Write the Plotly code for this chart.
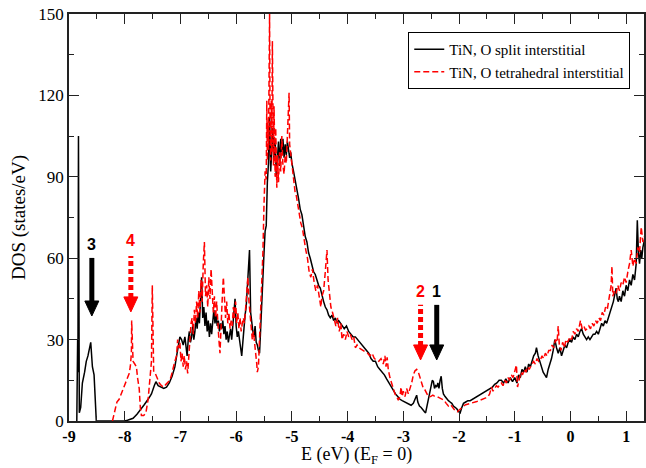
import plotly.graph_objects as go

# ---------------- data ----------------
split_energy = [
    -8.86, -8.845, -8.84, -8.83, -8.815, -8.79, -8.76, -8.72, -8.69, -8.66, -8.61, -8.58, -8.55, -8.51, -8.0,
    -7.95, -7.85, -7.78, -7.72, -7.65, -7.58, -7.52, -7.47, -7.44, -7.40, -7.35, -7.30, -7.25, -7.20, -7.15,
    -7.10, -7.06, -7.03, -7.01, -6.98, -6.95, -6.92, -6.90, -6.88, -6.86, -6.84, -6.82,
    -6.80, -6.78, -6.76, -6.74, -6.72, -6.70, -6.68, -6.66, -6.64, -6.62, -6.60, -6.58, -6.56, -6.54, -6.52,
    -6.50, -6.48, -6.46, -6.44, -6.42, -6.40, -6.38, -6.36, -6.34, -6.32, -6.30, -6.28, -6.26, -6.24, -6.22,
    -6.20, -6.18, -6.16, -6.14, -6.12, -6.10, -6.08, -6.06, -6.04, -6.02, -6.00, -5.98, -5.96, -5.94, -5.92,
    -5.90, -5.88, -5.86, -5.84, -5.82, -5.80, -5.78, -5.76, -5.74, -5.72, -5.70, -5.68, -5.66, -5.64, -5.62,
    -5.60, -5.58, -5.56, -5.54, -5.52, -5.50, -5.48, -5.46, -5.44, -5.42, -5.40, -5.38, -5.36, -5.34, -5.32,
    -5.30, -5.28, -5.26, -5.24, -5.22, -5.20, -5.18, -5.16, -5.14, -5.12, -5.10, -5.08, -5.06, -5.04, -5.02,
    -5.00, -4.97, -4.94, -4.91, -4.88, -4.85, -4.82, -4.79, -4.76, -4.73, -4.70, -4.67, -4.64, -4.61, -4.58,
    -4.55, -4.52, -4.49, -4.46, -4.43, -4.40, -4.37, -4.34, -4.31, -4.28, -4.25, -4.22, -4.19, -4.16, -4.13,
    -4.10, -4.06, -4.02, -3.98, -3.94, -3.90, -3.86, -3.82, -3.78, -3.74, -3.70, -3.66, -3.62, -3.58, -3.54,
    -3.50, -3.46, -3.42, -3.38, -3.34, -3.30, -3.26, -3.22, -3.18, -3.14, -3.10, -3.06, -3.02, -2.98, -2.94,
    -2.90, -2.86, -2.82, -2.78, -2.76, -2.74, -2.71, -2.68, -2.65, -2.62, -2.60, -2.57, -2.54, -2.51, -2.48,
    -2.46, -2.44, -2.42, -2.40, -2.38, -2.36, -2.34, -2.32, -2.30, -2.28, -2.25, -2.22, -2.19, -2.16, -2.13,
    -2.10, -2.07, -2.04, -2.01, -1.98, -1.95, -1.92, -1.88, -1.84, -1.80, -1.76, -1.72, -1.68, -1.64, -1.60,
    -1.56, -1.52, -1.48, -1.44, -1.40, -1.36, -1.32, -1.28, -1.24, -1.20, -1.16, -1.12, -1.08, -1.04, -1.00,
    -0.96, -0.93, -0.90, -0.87, -0.84, -0.81, -0.78, -0.75, -0.72, -0.69, -0.66, -0.63, -0.61, -0.58, -0.55,
    -0.52, -0.49, -0.46, -0.43, -0.40, -0.37, -0.34, -0.31, -0.28, -0.25, -0.22, -0.19, -0.16, -0.13, -0.10,
    -0.07, -0.04, -0.01, 0.02, 0.05, 0.08, 0.11, 0.14, 0.17, 0.20, 0.23, 0.26, 0.29, 0.32, 0.35,
    0.38, 0.41, 0.44, 0.47, 0.50, 0.53, 0.56, 0.59, 0.62, 0.65, 0.68, 0.71, 0.74, 0.77, 0.80,
    0.82, 0.84, 0.86, 0.88, 0.91, 0.94, 0.97, 1.00, 1.03, 1.06, 1.09, 1.12, 1.15, 1.18, 1.20,
    1.22, 1.24, 1.26, 1.28, 1.30, 1.32, 1.34,
]
split_dos = [
    0, 30, 18, 105, 3, 5, 14, 18, 22, 24, 29, 20, 17, 0, 0,
    0.3, 1, 2.5, 4, 6, 8, 10, 13, 14.5, 13, 12.5, 12, 12.5, 14, 16.5,
    20, 25, 29, 31, 30, 28, 31, 26, 24, 30, 33, 29,
    31, 35, 30, 33, 38, 34, 40, 36, 44, 53, 38, 42, 35, 40, 33,
    37, 31, 36, 32, 38, 41, 36, 39, 35, 37, 33, 36, 34, 37, 32,
    35, 30, 33, 29, 31, 34, 30, 36, 41, 45, 35, 31, 33, 29, 27,
    24, 30, 36, 39, 42, 48, 55, 63, 40, 36, 33, 31, 35, 29, 28,
    26, 25, 34, 45, 53, 62, 70, 72, 88, 95, 112, 92, 100, 108, 96,
    104, 90, 97, 103, 94, 104, 99, 104, 97, 102, 98, 103, 100, 97, 99,
    95, 92, 89, 85, 82, 78, 76, 72, 68, 66, 62, 60, 57, 55, 54,
    52, 50, 49, 46, 44, 42, 41, 39, 38, 39, 37, 38, 36, 37, 36,
    35, 34, 35, 33, 32, 31, 31, 30, 29, 28, 27, 26, 25, 23, 22,
    22, 20, 19, 18, 17, 15.5, 14, 12.5, 11, 10, 9, 8, 7.5, 7, 6.5,
    6, 5.8, 6.5, 8.5, 9.5, 7, 5.5, 5, 4, 3.4, 3, 6, 10, 12, 15,
    14.5, 12, 13, 12.5, 14, 12, 15, 16.5, 12, 10, 9, 8, 7.5, 7, 6.5,
    5.5, 5, 4.5, 3.5, 3, 5, 6.5, 7, 7.5, 7.5, 8, 8.5, 9, 9.5, 10,
    10.5, 11, 11.5, 12, 12.5, 13.5, 14, 15, 15, 14, 15.5, 14, 16, 14.5, 16,
    14, 17, 16, 19, 18, 20, 18, 21, 20, 22, 24, 25, 27, 24, 22,
    20, 18, 17, 16, 19, 21, 23, 26, 30, 27, 25, 27, 24, 26, 28,
    27, 29, 30, 29, 31, 30, 32, 31, 33, 34, 32, 31, 30, 31, 30,
    31, 32, 32, 33, 32, 34, 36, 35, 37, 36, 38, 40, 42, 44, 47,
    49, 45, 44, 46, 44, 48, 46, 50, 48, 52, 50, 54, 52, 58, 74,
    62, 58, 63, 60, 64, 66, 68,
]

tetra_energy = [
    -8.22, -8.18, -8.14, -8.10, -8.06, -8.02, -7.98, -7.95, -7.92, -7.90, -7.88, -7.875, -7.865, -7.85, -7.82,
    -7.79, -7.77, -7.74, -7.72, -7.70, -7.66, -7.62, -7.58, -7.55, -7.52, -7.505, -7.495, -7.48, -7.45, -7.42,
    -7.38, -7.34, -7.30, -7.26, -7.22, -7.19, -7.16, -7.13, -7.10, -7.07, -7.05, -7.03, -7.01, -6.99, -6.97,
    -6.95, -6.93, -6.91, -6.89, -6.87, -6.85, -6.83, -6.81, -6.79, -6.77, -6.75, -6.73, -6.71, -6.69, -6.67,
    -6.65, -6.63, -6.61, -6.59, -6.57, -6.55, -6.53, -6.51, -6.49, -6.47, -6.45, -6.43, -6.41, -6.39, -6.37,
    -6.35, -6.33, -6.31, -6.29, -6.27, -6.25, -6.23, -6.21, -6.19, -6.17, -6.15, -6.13, -6.11, -6.09, -6.07,
    -6.05, -6.03, -6.01, -5.99, -5.97, -5.95, -5.93, -5.91, -5.89, -5.87, -5.85, -5.83, -5.81, -5.79, -5.77,
    -5.75, -5.73, -5.71, -5.69, -5.67, -5.65, -5.63, -5.62, -5.60, -5.58, -5.56, -5.54, -5.52, -5.50, -5.48,
    -5.46, -5.45, -5.44, -5.43, -5.42, -5.41, -5.40, -5.39, -5.38, -5.37, -5.36, -5.35, -5.34, -5.33, -5.32,
    -5.31, -5.30, -5.29, -5.28, -5.27, -5.26, -5.24, -5.22, -5.20, -5.18, -5.16, -5.14, -5.12, -5.10, -5.08,
    -5.06, -5.05, -5.04, -5.02, -5.00, -4.98, -4.96, -4.94, -4.92, -4.90, -4.87, -4.84, -4.81, -4.78, -4.75,
    -4.72, -4.69, -4.66, -4.63, -4.60, -4.57, -4.54, -4.51, -4.48, -4.46, -4.43, -4.40, -4.37, -4.35, -4.33,
    -4.30, -4.27, -4.24, -4.21, -4.18, -4.15, -4.12, -4.10, -4.07, -4.04, -4.01, -3.98, -3.95, -3.92, -3.89,
    -3.86, -3.83, -3.80, -3.76, -3.72, -3.68, -3.64, -3.60, -3.56, -3.52, -3.48, -3.44, -3.40, -3.36, -3.33,
    -3.31, -3.29, -3.27, -3.24, -3.21, -3.18, -3.15, -3.12, -3.09, -3.06, -3.04, -3.02, -3.00, -2.97, -2.94,
    -2.91, -2.88, -2.85, -2.82, -2.79, -2.76, -2.73, -2.70, -2.67, -2.64, -2.61, -2.58, -2.55, -2.51, -2.47,
    -2.43, -2.39, -2.35, -2.31, -2.27, -2.23, -2.19, -2.15, -2.12, -2.09, -2.06, -2.03, -2.00, -1.96, -1.92,
    -1.88, -1.84, -1.80, -1.76, -1.72, -1.68, -1.64, -1.60, -1.56, -1.52, -1.48, -1.45, -1.42, -1.39, -1.36,
    -1.33, -1.30, -1.27, -1.24, -1.21, -1.18, -1.15, -1.12, -1.09, -1.06, -1.03, -1.00, -0.97, -0.95, -0.92,
    -0.89, -0.86, -0.83, -0.80, -0.77, -0.74, -0.72, -0.69, -0.66, -0.63, -0.60, -0.57, -0.54, -0.51, -0.48,
    -0.45, -0.42, -0.39, -0.36, -0.33, -0.30, -0.27, -0.24, -0.22, -0.20, -0.17, -0.14, -0.11, -0.08, -0.05,
    -0.01, 0.02, 0.05, 0.08, 0.11, 0.14, 0.18, 0.21, 0.24, 0.27, 0.30, 0.33, 0.36, 0.39, 0.42,
    0.45, 0.48, 0.51, 0.54, 0.57, 0.60, 0.63, 0.66, 0.69, 0.71, 0.73, 0.745, 0.76, 0.79, 0.82,
    0.85, 0.88, 0.91, 0.94, 0.97, 1.00, 1.03, 1.06, 1.09, 1.12, 1.15, 1.18, 1.21, 1.24, 1.27,
    1.30, 1.33,
]
tetra_dos = [
    0, 3, 7, 8, 10, 12.5, 14, 16, 17.5, 20, 25, 37, 28, 22, 21,
    20, 16, 12, 5, 2, 2, 3, 8, 15, 22, 50, 26, 18, 17.5, 16,
    14, 13, 12.5, 13.5, 14.5, 15, 17, 20, 22, 24, 30, 27, 29, 22, 25,
    20, 24, 19, 22, 17.5, 25, 30, 36, 38, 32, 41, 36, 44, 38, 48,
    40, 52, 44, 58, 66, 46, 50, 42, 53, 45, 56, 48, 40, 46, 38,
    44, 35, 30, 25, 38, 45, 53, 42, 38, 44, 36, 40, 34, 37, 35,
    42, 38, 44, 36, 40, 34, 38, 33, 36, 38, 36, 42, 48, 53, 44,
    38, 35, 30, 33, 27, 25, 21, 18, 20, 30, 42, 54, 62, 80, 92,
    89, 118, 96, 110, 100, 128, 150, 105, 96, 118, 99, 140, 112, 94, 116,
    102, 90, 108, 95, 86, 98, 88, 99, 92, 105, 94, 91, 98, 95, 104,
    112, 121, 102, 98, 95, 91, 88, 84, 83, 80, 77, 73, 71, 66, 63,
    60, 55, 53, 56, 51, 48, 50, 45, 42, 46, 48, 55, 63, 52, 47,
    42, 40, 37, 35, 38, 33, 36, 30, 32, 30, 33, 31, 32, 30, 31,
    27, 28, 27, 26.5, 26, 25.5, 25, 24, 25, 23, 22.5, 22, 23, 21, 24,
    20, 23.5, 19, 16, 14, 12.5, 10, 9, 7.7, 9, 12.5, 9, 11, 9, 12,
    10, 12, 14, 17, 18.5, 19, 18, 16, 14, 12, 11.4, 10, 9, 9, 9.5,
    9, 9, 8.5, 8, 7.7, 6.5, 5.5, 6, 5, 4, 3.5, 3.4, 4, 5, 5.5,
    6, 6.2, 6.5, 6.8, 7, 7.2, 7.5, 7.8, 8, 8.5, 9, 10, 12.5, 11, 12,
    13, 12.5, 13.5, 14, 13, 15, 14, 16, 15, 17, 16, 18, 20.6, 12.5, 16,
    18, 17, 19, 18, 20, 19, 20, 21, 22, 21, 23, 22, 22.5, 24, 23,
    25, 24, 26, 26, 28, 27, 30, 29, 35, 28, 26, 29, 27, 30, 29,
    31, 30, 33, 32, 34, 33, 37, 34, 35, 33.5, 34, 35, 34, 36, 35,
    37, 36, 38, 37, 40, 39, 42, 41, 45, 47, 50, 57, 46, 48, 47,
    50, 48, 51, 50, 53, 51, 55, 58, 63, 57, 60, 58, 64, 62, 71.5,
    66, 68,
]

series_names = ["TiN, O split interstitial", "TiN, O tetrahedral interstitial"]
series_colors = ["black", "#ff0000"]
series_dashes = ["solid", "6px,3px"]

# arrows: label, energy, shaft top (DOS), tip (DOS), label position (DOS)
arrow_labels = ["1", "2", "3", "4"]
arrow_energy = [-2.40, -2.69, -8.59, -7.89]
arrow_top = [42.8, 42.8, 60.1, 60.8]
arrow_tip = [22.5, 22.5, 38.7, 40.2]
arrow_label_y = [47.9, 47.9, 65.2, 66.7]
arrow_colors = ["black", "#ff0000", "black", "#ff0000"]
arrow_dotted = [False, True, False, True]

x_ticks = list(range(-9, 2))
x_tick_text = [str(v) for v in x_ticks]
y_ticks = [0, 30, 60, 90, 120, 150]
x_title = "E (eV) (E<sub>F</sub> = 0)"
y_title = "DOS (states/eV)"

# ---------------- figure ----------------
fig = go.Figure()
for xs, ys, name, col, dash in zip([split_energy, tetra_energy], [split_dos, tetra_dos],
                                   series_names, series_colors, series_dashes):
    fig.add_trace(go.Scatter(x=xs, y=ys, mode="lines", name=name,
                             line=dict(color=col, width=1.5, dash=dash)))

HEAD_H = 15  # px
HEAD_W = 7   # px half width
PX_PER_UNIT = 407 / 150
for lab, ex, top, tip, ly, col, dotted in zip(arrow_labels, arrow_energy, arrow_top, arrow_tip,
                                               arrow_label_y, arrow_colors, arrow_dotted):
    fig.add_shape(type="line", xref="x", yref="y",
                  ysizemode="pixel", yanchor=tip,
                  x0=ex, x1=ex, y0=HEAD_H - 1,
                  y1=(top - tip) * PX_PER_UNIT,
                  line=dict(color=col, width=5, dash="5px,3px" if dotted else "solid"))
    fig.add_shape(type="path", xref="x", yref="y",
                  xsizemode="pixel", ysizemode="pixel", xanchor=ex, yanchor=tip,
                  path=f"M {-HEAD_W} {HEAD_H} L {HEAD_W} {HEAD_H} L 0 0 Z",
                  fillcolor=col, line=dict(color=col, width=1))
    fig.add_annotation(x=ex, y=ly, text=f"<b>{lab}</b>", showarrow=False,
                       font=dict(family="Liberation Sans, Arial", size=16, color=col))

# x-axis title as a positioned annotation (keeps it clear of the tick labels)
fig.add_annotation(xref="paper", yref="paper", x=0.5, y=-0.1155, xanchor="center", yanchor="bottom",
                   text=x_title, showarrow=False, borderpad=0,
                   font=dict(family="Liberation Serif", size=18, color="black"))

axis_common = dict(showline=True, linecolor="#222", linewidth=1.5, mirror="ticks",
                   ticks="inside", ticklen=10, tickwidth=1.2, tickcolor="#222",
                   showgrid=False, zeroline=False)

fig.update_xaxes(range=[-9, 1.32], tickvals=x_ticks, ticktext=x_tick_text,
                 tickfont=dict(family="Liberation Serif", size=16, color="black", weight="bold"),
                 minor=dict(dtick=0.5, tick0=-9, ticks="inside", ticklen=5, tickcolor="#222", tickwidth=1.2),
                 **axis_common)
fig.update_yaxes(range=[0, 150], tickvals=y_ticks,
                 tickfont=dict(family="Liberation Serif", size=17, color="black"),
                 minor=dict(dtick=15, tick0=0, ticks="inside", ticklen=5, tickcolor="#222", tickwidth=1.2),
                 title=dict(text=y_title, standoff=8,
                            font=dict(family="Liberation Serif", size=19, color="black")),
                 **axis_common)

fig.update_layout(
    width=646, height=468,
    margin=dict(l=69, r=0, t=14, b=47),
    plot_bgcolor="white", paper_bgcolor="white",
    legend=dict(x=0.59, y=0.956, xanchor="left", yanchor="top",
                bordercolor="black", borderwidth=1, bgcolor="white",
                font=dict(family="Liberation Serif", size=15, color="black"),
                tracegroupgap=0, itemwidth=30),
)

fig.write_html("out.html")
